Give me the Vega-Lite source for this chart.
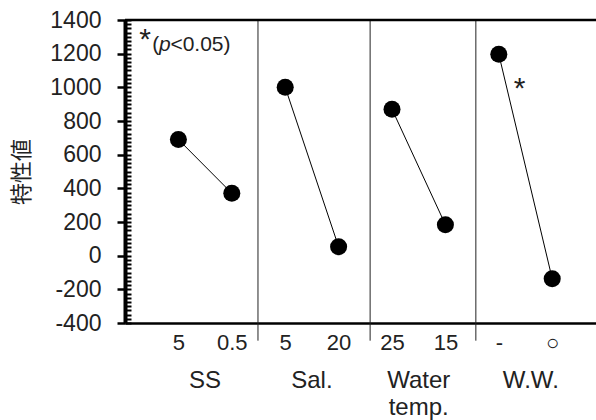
{
  "$schema": "https://vega.github.io/schema/vega-lite/v6.json",
  "autosize": {"type": "none"},
  "padding": {"left": 125, "top": 20, "right": 0, "bottom": 97},
  "width": 471,
  "height": 303,
  "background": "white",
  "config": {
    "view": {"stroke": null},
    "font": "Liberation Sans",
    "text": {"font": "Liberation Sans", "color": "#222"}
  },
  "datasets": {
    "pts": [
      {"g": "SS", "i": 1, "v": 690},
      {"g": "SS", "i": 2, "v": 371},
      {"g": "Sal.", "i": 3, "v": 1000},
      {"g": "Sal.", "i": 4, "v": 53},
      {"g": "Water temp.", "i": 5, "v": 870},
      {"g": "Water temp.", "i": 6, "v": 184},
      {"g": "W.W.", "i": 7, "v": 1196},
      {"g": "W.W.", "i": 8, "v": -137}
    ],
    "seps": [{"s": 2.49}, {"s": 4.59}, {"s": 6.57}],
    "groups": [
      {"x": 1.5, "t": "SS"},
      {"x": 3.5, "t": "Sal."},
      {"x": 5.5, "t": "Water|temp."},
      {"x": 7.6, "t": "W.W."}
    ],
    "minor": [{"a": 0}]
  },
  "layer": [
    {
      "data": {"name": "pts"},
      "mark": {"type": "line", "color": "black", "strokeWidth": 1},
      "encoding": {
        "x": {
          "field": "i", "type": "quantitative",
          "scale": {"domain": [0, 8.82], "nice": false, "zero": false},
          "axis": {
            "orient": "bottom",
            "title": null,
            "values": [1, 2, 3, 4, 5, 6, 7, 8],
            "labelExpr": "['','5','0.5','5','20','25','15','-','○'][datum.value]",
            "ticks": false,
            "grid": false,
            "domainColor": "black",
            "domainWidth": 2.5,
            "labelFont": "Liberation Sans",
            "labelFontSize": 22,
            "labelColor": "#222",
            "labelPadding": 9,
            "labelFlush": false,
            "labelOverlap": false
          }
        },
        "y": {
          "field": "v", "type": "quantitative",
          "scale": {"domain": [-400, 1400], "nice": false, "zero": false},
          "axis": {
            "orient": "left",
            "title": "特性値",
            "titleFont": "Noto Sans CJK JP",
            "titleFontSize": 22,
            "titleFontWeight": "normal",
            "titleColor": "#222",
            "titlePadding": 16,
            "values": [-400, -200, 0, 200, 400, 600, 800, 1000, 1200, 1400],
            "labelExpr": "'' + datum.value",
            "grid": false,
            "domainColor": "black",
            "domainWidth": 4,
            "tickColor": "black",
            "tickSize": 8,
            "tickWidth": 2.5,
            "labelFont": "Liberation Sans",
            "labelFontSize": 23,
            "labelColor": "#222",
            "labelPadding": 16,
            "labelFlush": false,
            "labelOverlap": false
          }
        },
        "detail": {"field": "g"}
      }
    },
    {
      "data": {"name": "pts"},
      "mark": {"type": "point", "filled": true, "color": "black", "opacity": 1, "size": 290},
      "encoding": {
        "x": {"field": "i", "type": "quantitative"},
        "y": {"field": "v", "type": "quantitative"}
      }
    },
    {
      "data": {"name": "minor"},
      "mark": {"type": "point", "opacity": 0},
      "encoding": {
        "x": {"datum": 0, "type": "quantitative"},
        "y": {
          "datum": 0, "type": "quantitative",
          "axis": {
            "orient": "left",
            "title": null,
            "labels": false,
            "domain": false,
            "grid": false,
            "values": [-400, -375, -350, -325, -300, -275, -250, -225, -200, -175, -150, -125, -100, -75, -50, -25, 0, 25, 50, 75, 100, 125, 150, 175, 200, 225, 250, 275, 300, 325, 350, 375, 400, 425, 450, 475, 500, 525, 550, 575, 600, 625, 650, 675, 700, 725, 750, 775, 800, 825, 850, 875, 900, 925, 950, 975, 1000, 1025, 1050, 1075, 1100, 1125, 1150, 1175, 1200, 1225, 1250, 1275, 1300, 1325, 1350, 1375, 1400],
            "tickColor": "black",
            "tickSize": -6,
            "tickWidth": 2
          }
        }
      }
    },
    {
      "data": {"name": "seps"},
      "mark": {"type": "rule", "color": "#222", "strokeWidth": 1},
      "encoding": {
        "x": {"field": "s", "type": "quantitative"},
        "y": {"datum": 1400, "type": "quantitative"},
        "y2": {"datum": -505}
      }
    },
    {
      "data": {"name": "minor"},
      "mark": {"type": "rule", "color": "black", "strokeWidth": 2.5},
      "encoding": {
        "y": {"datum": 1400, "type": "quantitative"}
      }
    },
    {
      "data": {"name": "groups"},
      "mark": {"type": "text", "fontSize": 24, "align": "center", "baseline": "alphabetic", "lineBreak": "|", "lineHeight": 27, "color": "#222"},
      "encoding": {
        "x": {"field": "x", "type": "quantitative"},
        "y": {"datum": -787, "type": "quantitative"},
        "text": {"field": "t"}
      }
    },
    {
      "data": {"values": [{"x": 0.375, "y": 1230, "t": "*"}, {"x": 7.39, "y": 938, "t": "*"}]},
      "mark": {"type": "text", "fontSize": 30, "align": "center", "baseline": "alphabetic", "color": "#222"},
      "encoding": {
        "x": {"field": "x", "type": "quantitative"},
        "y": {"field": "y", "type": "quantitative"},
        "text": {"field": "t"}
      }
    },
    {
      "data": {"values": [{"x": 0.51, "y": 1218, "t": "("}, {"x": 0.85, "y": 1218, "t": "<0.05)"}]},
      "mark": {"type": "text", "fontSize": 21, "align": "left", "baseline": "alphabetic", "color": "#222"},
      "encoding": {
        "x": {"field": "x", "type": "quantitative"},
        "y": {"field": "y", "type": "quantitative"},
        "text": {"field": "t"}
      }
    },
    {
      "data": {"values": [{"x": 0.635, "y": 1218, "t": "p"}]},
      "mark": {"type": "text", "fontSize": 21, "align": "left", "baseline": "alphabetic", "fontStyle": "italic", "color": "#222"},
      "encoding": {
        "x": {"field": "x", "type": "quantitative"},
        "y": {"field": "y", "type": "quantitative"},
        "text": {"field": "t"}
      }
    }
  ],
  "resolve": {"axis": {"y": "independent"}}
}
